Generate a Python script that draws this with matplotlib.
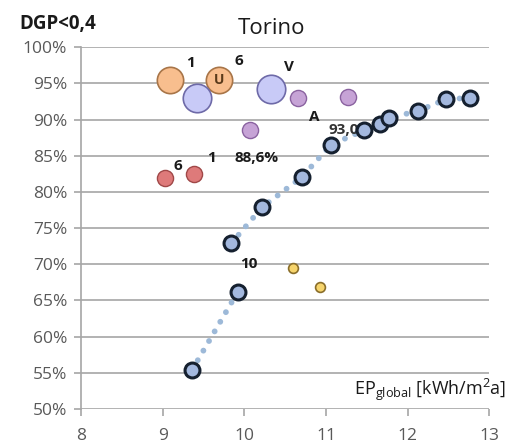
import matplotlib
matplotlib.use("Agg")
import matplotlib.pyplot as plt
from matplotlib.ticker import FuncFormatter

plt.rcParams['font.family'] = ['Open Sans', 'DejaVu Sans']

# EP_global [kWh/m2a] vs. share of time with DGP < 0.4 [%]
orange_x = [9.09, 9.69]
orange_y = [95.4, 95.5]
lavender_x = [9.42, 10.33]
lavender_y = [93.0, 94.2]
purple_x = [10.07, 10.66, 11.27]
purple_y = [88.6, 93.0, 93.1]
red_x = [9.03, 9.38]
red_y = [81.9, 82.5]
blue_x = [9.36, 9.92, 9.84, 10.22, 10.70, 11.06, 11.46, 11.66, 11.77, 12.13, 12.47, 12.77]
blue_y = [55.4, 66.2, 72.9, 77.9, 82.0, 86.5, 88.5, 89.4, 90.2, 91.2, 92.8, 93.0]
yellow_x = [10.59, 10.93]
yellow_y = [69.5, 66.9]

x_ticks = [8, 9, 10, 11, 12, 13]
y_ticks = [50, 55, 60, 65, 70, 75, 80, 85, 90, 95, 100]

fig = plt.figure(figsize=(5.07, 4.45), dpi=100)
ax = fig.add_axes([0.160, 0.081, 0.805, 0.813])

ax.set_xlim(8, 13)
ax.set_ylim(50, 100)
ax.set_xticks(x_ticks)
ax.set_yticks(y_ticks)
ax.yaxis.set_major_formatter(FuncFormatter(lambda v, p: f"{int(v)}%"))

grid_c = '#A6A6A6'
for y in y_ticks:
    ax.axhline(y, color=grid_c, lw=1.2, zorder=0)
for s in ['top', 'right', 'bottom']:
    ax.spines[s].set_visible(False)
ax.spines['left'].set_color(grid_c)
ax.spines['left'].set_linewidth(1.2)
ax.tick_params(axis='both', colors=grid_c, labelcolor='#595959', labelsize=12.5,
               length=5, width=1.2)
ax.tick_params(axis='x', pad=9)
ax.tick_params(axis='y', pad=5)

# dotted trend through the blue series (two runs)
dot_style = dict(linestyle=(0, (0.01, 1.9)), color='#9DB9D8', lw=4.2,
                 dash_capstyle='round', zorder=1)
ax.plot(blue_x[:2], blue_y[:2], **dot_style)
ax.plot(blue_x[2:], blue_y[2:], **dot_style)

ax.scatter(orange_x, orange_y, s=360, c='#F8BE8E', edgecolors='#A87548', linewidths=1.2, zorder=3)
ax.scatter(lavender_x, lavender_y, s=420, c='#C8CAF7', edgecolors='#6E6AA8', linewidths=1.2, zorder=3)
ax.scatter(purple_x, purple_y, s=135, c='#C6A3D6', edgecolors='#8A62A0', linewidths=1.0, zorder=3)
ax.scatter(red_x, red_y, s=135, c='#DE7A7A', edgecolors='#A04848', linewidths=1.0, zorder=3)
ax.scatter(blue_x, blue_y, s=115, c='#A3B8DE', edgecolors='#15202F', linewidths=2.2, zorder=4)
ax.scatter(yellow_x, yellow_y, s=50, c='#F6D46C', edgecolors='#8A6E2A', linewidths=1.2, zorder=3)

lab = dict(fontsize=11, fontweight='bold', color='#1A1A1A', ha='center', va='center')
ax.text(9.34, 97.8, '1', zorder=5, **lab)
ax.text(9.93, 98.1, '6', zorder=5, **lab)
ax.text(10.55, 97.3, 'V', zorder=5, **lab)
ax.text(9.69, 95.5, 'U', fontsize=10, fontweight='bold', color='#5A3A1A',
        ha='center', va='center', zorder=5)
ax.text(10.86, 90.4, 'A', zorder=5, **lab)
ax.text(11.30, 88.6, '93,0%', fontsize=11, fontweight='bold', color='#333333',
        ha='center', va='center', zorder=2)
ax.text(9.19, 83.6, '6', zorder=5, **lab)
ax.text(9.60, 84.7, '1', zorder=5, **lab)
ax.text(10.15, 84.7, '88,6%', zorder=5, **lab)
ax.text(10.06, 70.1, '10', zorder=5, **lab)

fig.text(0.535, 0.935, 'Torino', fontsize=16, color='#1A1A1A', ha='center', va='center')
fig.text(0.038, 0.945, 'DGP<0,4', fontsize=13.5, fontweight='bold', color='#1A1A1A',
         ha='left', va='center')
ax.text(13.21, 52.7, r'EP$_{\mathregular{global}}$ [kWh/m$^{\mathregular{2}}$a]', fontsize=13,
        color='#1A1A1A', ha='right', va='center', zorder=5, clip_on=False)

fig.savefig('out.png', dpi=100)
